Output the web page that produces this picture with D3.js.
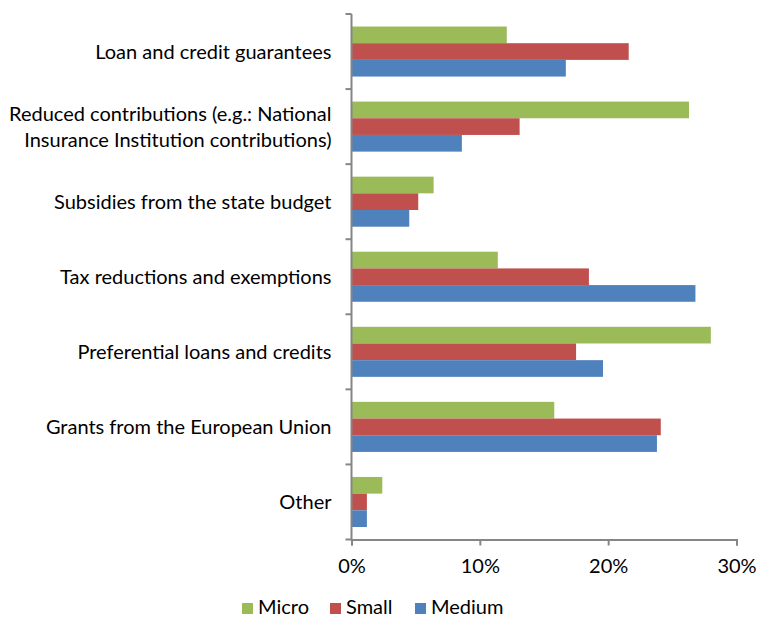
<!DOCTYPE html>
<html>
<head>
<meta charset="utf-8">
<script src="https://cdn.jsdelivr.net/npm/d3@7"></script>
<style>
  html, body { margin: 0; padding: 0; background: #fff; }
  svg text { font-family: Lato, "Open Sans", sans-serif; fill: #000; }
</style>
</head>
<body>
<svg id="chart" width="758" height="617"></svg>
<script>
// Forms of support, share of enterprises by size
const categories = [
  ["Loan and credit guarantees"],
  ["Reduced contributions (e.g.: National", "Insurance Institution contributions)"],
  ["Subsidies from the state budget"],
  ["Tax reductions and exemptions"],
  ["Preferential loans and credits"],
  ["Grants from the European Union"],
  ["Other"]
];
const seriesNames = ["Micro", "Small", "Medium"];
const micro  = [12.1, 26.3, 6.4, 11.4, 28.0, 15.8, 2.4];
const small  = [21.6, 13.1, 5.2, 18.5, 17.5, 24.1, 1.2];
const medium = [16.7, 8.6, 4.5, 26.8, 19.6, 23.8, 1.2];
const xTicks = [0, 10, 20, 30];
const colors = ["#9BBB59", "#C0504D", "#4F81BD"];

const series = [micro, small, medium];
const svg = d3.select("#chart");
const plotLeft = 351.5, plotRight = 736.5, plotTop = 14, plotBottom = 539.5;
const fontSize = "20px";

const x = d3.scaleLinear().domain([0, 30]).range([plotLeft, plotRight]);
const y = d3.scaleBand().domain(d3.range(categories.length)).range([plotTop, plotBottom]).paddingInner(0).paddingOuter(0);
const inner = d3.scaleBand().domain(d3.range(series.length)).range([0, y.bandwidth()]).paddingInner(0).paddingOuter(0.75);

// bars
series.forEach((vals, s) => {
  svg.append("g").selectAll("rect").data(vals).join("rect")
    .attr("x", x(0))
    .attr("y", (d, i) => y(i) + inner(s))
    .attr("width", d => x(d) - x(0))
    .attr("height", inner.bandwidth())
    .attr("fill", colors[s]);
});

// horizontal axis
const xAxis = d3.axisBottom(x).tickValues(xTicks).tickFormat(d => d + "%").tickSize(6).tickPadding(13);
const gx = svg.append("g").attr("transform", `translate(0,${plotBottom})`).call(xAxis);
gx.select(".domain").attr("stroke", "#868686").attr("stroke-width", 2);
gx.selectAll(".tick line").attr("stroke", "#868686").attr("stroke-width", 2);
gx.selectAll(".tick text").style("font-size", fontSize).attr("fill", "#000");

// vertical axis with ticks between categories
const yEdges = d3.range(categories.length + 1).map(i => plotTop + i * y.step());
svg.append("line").attr("x1", plotLeft).attr("x2", plotLeft).attr("y1", plotTop).attr("y2", plotBottom)
  .attr("stroke", "#868686").attr("stroke-width", 2);
svg.append("g").selectAll("line").data(yEdges).join("line")
  .attr("x1", plotLeft - 6).attr("x2", plotLeft).attr("y1", d => d).attr("y2", d => d)
  .attr("stroke", "#868686").attr("stroke-width", 2);

// category labels
const lineH = 26;
categories.forEach((lines, i) => {
  const cy = y(i) + y.bandwidth() / 2;
  const t = svg.append("text").attr("text-anchor", "end").style("font-size", fontSize);
  lines.forEach((ln, k) => {
    t.append("tspan").attr("x", plotLeft - 20)
      .attr("y", cy + (k - (lines.length - 1) / 2) * lineH)
      .attr("dy", "0.35em").text(ln);
  });
});

// legend
const legendX = [242, 330, 415];
const lg = svg.append("g");
seriesNames.forEach((name, s) => {
  lg.append("rect").attr("x", legendX[s]).attr("y", 603).attr("width", 11).attr("height", 11).attr("fill", colors[s]);
  lg.append("text").attr("x", legendX[s] + 16).attr("y", 614)
    .style("font-size", fontSize).text(name);
});
</script>
</body>
</html>
